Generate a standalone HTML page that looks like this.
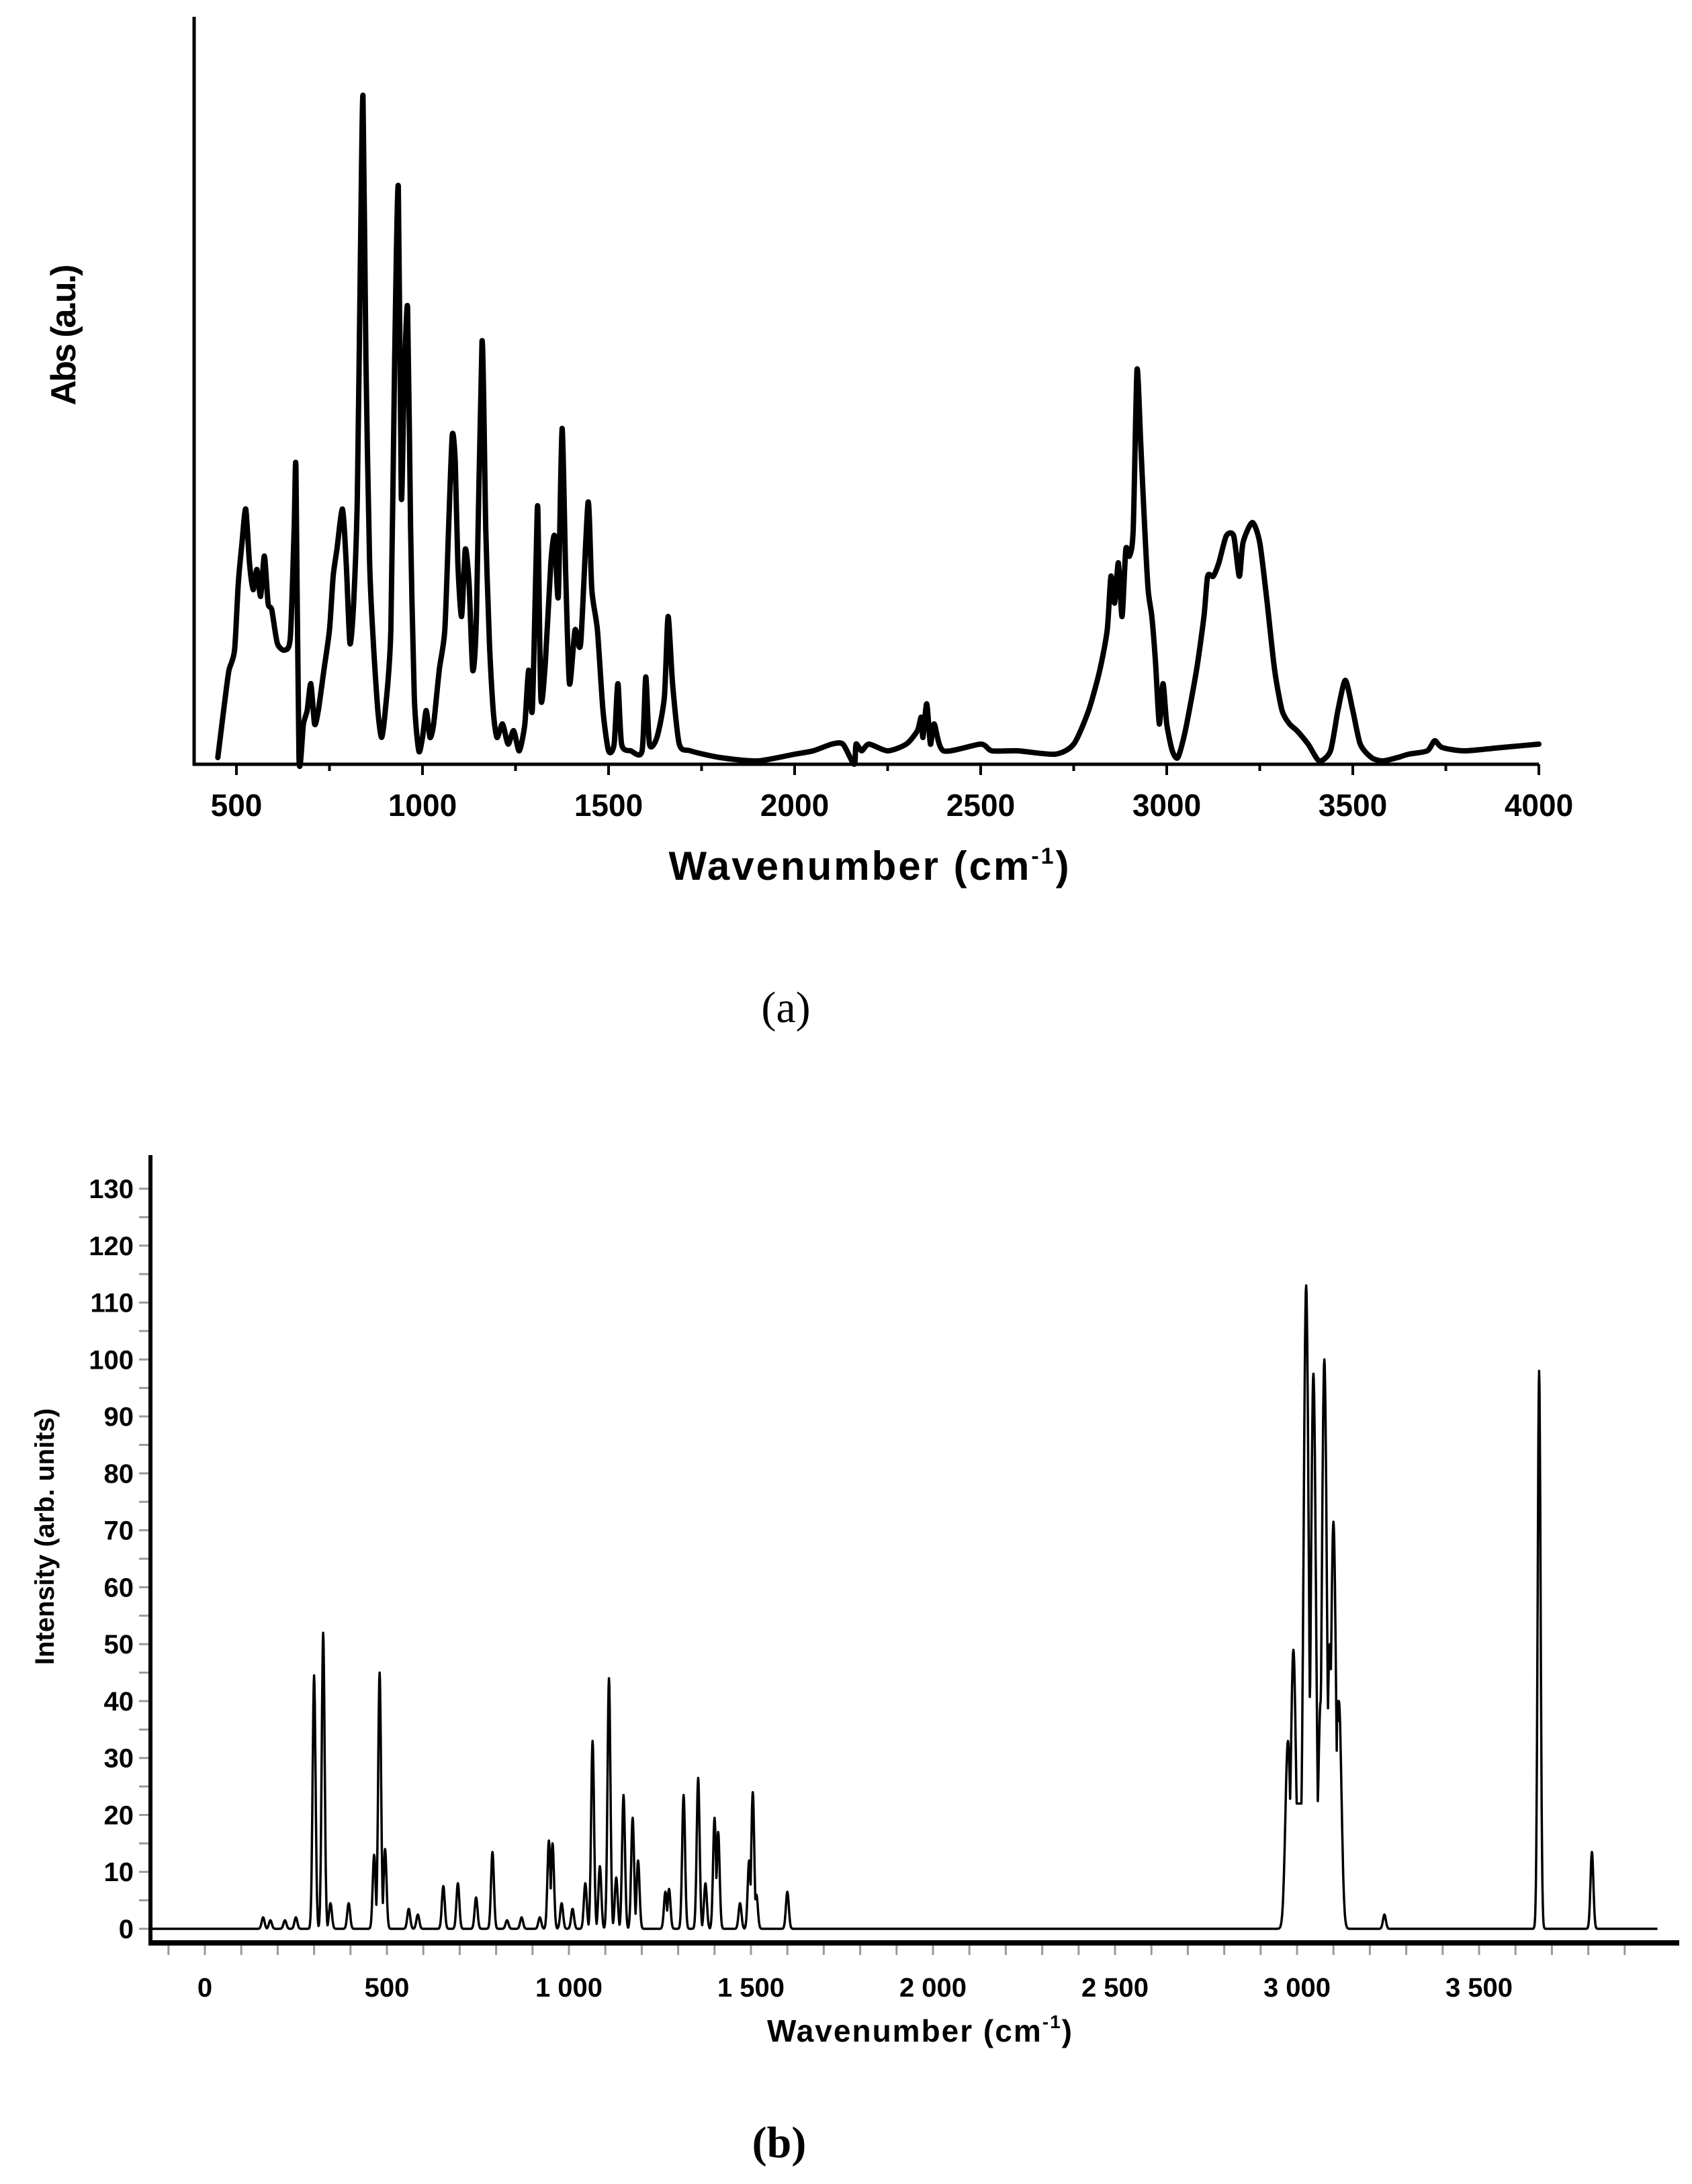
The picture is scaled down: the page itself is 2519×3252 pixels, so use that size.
<!DOCTYPE html>
<html><head><meta charset="utf-8"><style>
html,body{margin:0;padding:0;background:#fff;}
svg{display:block;}
</style></head><body>
<svg id="fig" width="2519" height="3252" viewBox="0 0 2519 3252" xmlns="http://www.w3.org/2000/svg" font-family="Liberation Sans, Arial, sans-serif">
<g id="chartA"></g>
<g id="chartB"></g>
</svg>
<script>
// ---- Chart (a) data ----
const aWavenumbers = [450,470,480,495,505,515,525,535,545,555,565,575,585,595,610,630,645,655,660,668,680,690,700,710,720,735,750,760,770,785,795,805,815,825,833,840,848,858,868,880,890,900,915,925,935,943,950,960,968,978,990,1000,1010,1020,1030,1045,1060,1070,1080,1088,1095,1105,1115,1125,1135,1145,1160,1170,1180,1190,1200,1215,1230,1245,1260,1275,1285,1295,1305,1310,1318,1330,1345,1355,1365,1375,1385,1395,1410,1425,1445,1455,1470,1485,
1500,1515,1525,1535,1560,1590,1600,1610,1630,1650,1660,1672,1690,1720,1800,1900,2000,2050,2100,2130,2160,2165,2180,2200,2250,2300,2330,2340,2345,2355,2365,2375,2400,2500,2530,2600,2700,2750,2790,2820,2840,2850,2860,2870,2880,2890,2900,2910,2920,2930,2940,2950,2960,2970,2980,2990,3000,3015,3030,3050,3080,3100,3110,3125,3140,3160,3180,3195,3205,3230,3250,3270,3290,3310,3330,3350,3380,3410,3440,3460,3480,3500,3520,3550,3580,3620,3650,3700,3720,3740,3800,3900,4000];
const aAbsorbance = [1,10,14,17,27,33,38,30,26,29,25,31,24,23,18,17,19,35,44,1,6,8,12,6,8,14,20,28,32,38,30,18,24,40,75,99.5,60,30,18,8,4,8,20,60,86,40,55,68,35,10,2,4,8,4,6,14,20,35,49,45,30,22,32,27,14,22,63,35,18,8,4,6,3,5,2,6,14,8,30,38,10,15,30,34,25,50,28,12,20,18,39,26,20,8,
2,3,12,3,2,2,13,3,4,10,22,12,3,2,1,0.5,1.5,2,3,3,0,3,2,3,2,3,5,7,4,9,3,6,2,3,2,2,1.5,3,8,14,20,28,24,30,22,32,31,35,58.7,48,36,26,22,15,6,12,6,2,1,5,14,22,28,28,30,34,34,28,33,36,33,24,14,8,6,5,3,0.5,2,8,12.5,8,3,1,0.5,1,1.5,2,3.5,2.5,2,2.5,3];
const aXTicks = [500,1000,1500,2000,2500,3000,3500,4000];

// ---- Chart (b) data ----
const bPeakPos = [160,180,220,250,300,325,345,395,465,480,495,560,585,655,695,745,790,830,870,920,945,955,980,1010,1045,1065,1085,1110,1130,1150,1175,1190,1265,1275,1315,1355,1375,1400,1410,1470,1495,1505,1515,1600,2975,2990,3005,3025,3045,3065,3075,3090,3100,3115,3240,3665,3810];
const bPeakInt = [2,1.5,1.5,2,44.5,52,4.5,4.5,13,45,14,3.5,2.5,7.5,8,5.5,13.5,1.5,2,2,15.5,15,4.5,3.5,8,33,11,44,9,23.5,19.5,12,6.5,7,23.5,26.5,8,19.5,17,4.5,12,24,6,6.5,33,49,20,113,97.5,40,100,50,71.5,40,2.5,98,13.5];
const bXTicks = [0,500,1000,1500,2000,2500,3000,3500];
const bXTickLabels = ["0","500","1 000","1 500","2 000","2 500","3 000","3 500"];
const bYTicks = [0,10,20,30,40,50,60,70,80,90,100,110,120,130];

const NS="http://www.w3.org/2000/svg";
function mk(parent,tag,attrs,txt){const e=document.createElementNS(NS,tag);for(const k in attrs)e.setAttribute(k,attrs[k]);if(txt!==undefined)e.textContent=txt;parent.appendChild(e);return e;}

// ===== Chart A =====
(function(){
const g=document.getElementById('chartA');
const xA=v=>352+(v-500)*0.554;
const yA=v=>1138-v*10;
let ax=mk(g,'line',{x1:289,y1:25,x2:289,y2:1140,stroke:'#000','stroke-width':5});


let bx=mk(g,'line',{x1:287,y1:1138,x2:xA(4000),y2:1138,stroke:'#000','stroke-width':5});


for(let v=500;v<=4000;v+=250){
  const t=mk(g,'line',{x1:xA(v),y1:1138,x2:xA(v),y2:1138+(v%500===0?16:10),stroke:'#000','stroke-width':4});
  
  
}
aXTicks.forEach(v=>{
  const t=mk(g,'text',{x:xA(v),y:1215,'text-anchor':'middle','font-size':46,'font-weight':'bold'},String(v));
  
  
});
const pts=aWavenumbers.map((w,i)=>[xA(w),yA(aAbsorbance[i])]);
let d='M'+pts[0][0].toFixed(1)+' '+pts[0][1].toFixed(1);
for(let i=0;i<pts.length-1;i++){
  const p0=pts[Math.max(0,i-1)],p1=pts[i],p2=pts[i+1],p3=pts[Math.min(pts.length-1,i+2)];
  const k=0.12;
  const c1=[p1[0]+(p2[0]-p0[0])*k,p1[1]+(p2[1]-p0[1])*k];
  const c2=[p2[0]-(p3[0]-p1[0])*k,p2[1]-(p3[1]-p1[1])*k];
  d+='C'+c1[0].toFixed(1)+' '+c1[1].toFixed(1)+' '+c2[0].toFixed(1)+' '+c2[1].toFixed(1)+' '+p2[0].toFixed(1)+' '+p2[1].toFixed(1);
}
const p=mk(g,'path',{d:d,fill:'none',stroke:'#000','stroke-width':8,'stroke-linejoin':'round','stroke-linecap':'round'});


const yt=mk(g,'text',{x:0,y:0,transform:'translate(112,500) rotate(-90)','text-anchor':'middle','font-size':52,'font-weight':'bold','letter-spacing':'-3'},'Abs (a.u.)');


const xt=mk(g,'text',{x:1295,y:1310,'text-anchor':'middle','font-size':60,'font-weight':'bold','letter-spacing':'3'},'Wavenumber (cm');


mk(xt,'tspan',{dy:-24,'font-size':34},'-1');
mk(xt,'tspan',{dy:24},')');
const la=mk(g,'text',{x:1170,y:1522,'text-anchor':'middle','font-size':66,'font-family':'Liberation Serif, serif'},'(a)');


})();

// ===== Chart B =====
(function(){
const g=document.getElementById('chartB');
const xB=v=>305+v*0.542;
const yB=v=>2872-v*8.477;
let ax=mk(g,'line',{x1:224,y1:1720,x2:224,y2:2896,stroke:'#000','stroke-width':6});


let bx=mk(g,'line',{x1:221,y1:2893,x2:2500,y2:2893,stroke:'#000','stroke-width':8});


for(let v=-100;v<=3900;v+=100){
  const t=mk(g,'line',{x1:xB(v),y1:2897,x2:xB(v),y2:2911,stroke:'#999','stroke-width':3});
  
  
}
for(let v=0;v<=130;v+=5){
  const t=mk(g,'line',{x1:207,y1:yB(v),x2:221,y2:yB(v),stroke:'#999','stroke-width':3});
  
  
}
bYTicks.forEach(v=>{
  const t=mk(g,'text',{x:199,y:yB(v)+14,'text-anchor':'end','font-size':40,'font-weight':'bold'},String(v));
  
  
});
bXTicks.forEach((v,i)=>{
  const t=mk(g,'text',{x:xB(v),y:2973,'text-anchor':'middle','font-size':40,'font-weight':'bold'},bXTickLabels[i]);
  
  
});
let d='';
for(let w=0;w<=3990;w+=1){
  let s=0;
  for(let k=0;k<bPeakPos.length;k++){
    const cl=(bPeakPos[k]>2950&&bPeakPos[k]<3130);
    const sg=cl?7:4;
    const dx=(w-bPeakPos[k])/sg;
    s=Math.max(s,bPeakInt[k]*Math.exp(-0.5*dx*dx));
  }
  if(w>2985&&w<3110) s=Math.max(s,22);
  if(w>=3110&&w<3125) s=Math.max(s,40*(3125-w)/15);
  if(w>2970&&w<=2985) s=Math.max(s,22*(w-2970)/15);
  d+=(d?'L':'M')+xB(w).toFixed(1)+' '+yB(s).toFixed(1);
}
d='M'+xB(-150)+' '+yB(0)+'L'+d.slice(1);
const p=mk(g,'path',{d:d,fill:'none',stroke:'#000','stroke-width':3.5,'stroke-linejoin':'round'});


const yt=mk(g,'text',{x:0,y:0,transform:'translate(80,2288) rotate(-90)','text-anchor':'middle','font-size':40,'font-weight':'bold'},'Intensity (arb. units)');


const xt=mk(g,'text',{x:1370,y:3040,'text-anchor':'middle','font-size':46,'font-weight':'bold','letter-spacing':'2'},'Wavenumber (cm');


mk(xt,'tspan',{dy:-20,'font-size':28},'-1');
mk(xt,'tspan',{dy:20},')');
const lb=mk(g,'text',{x:1160,y:3212,'text-anchor':'middle','font-size':66,'font-family':'Liberation Serif, serif','font-weight':'bold'},'(b)');


})();
</script>
</body></html>
